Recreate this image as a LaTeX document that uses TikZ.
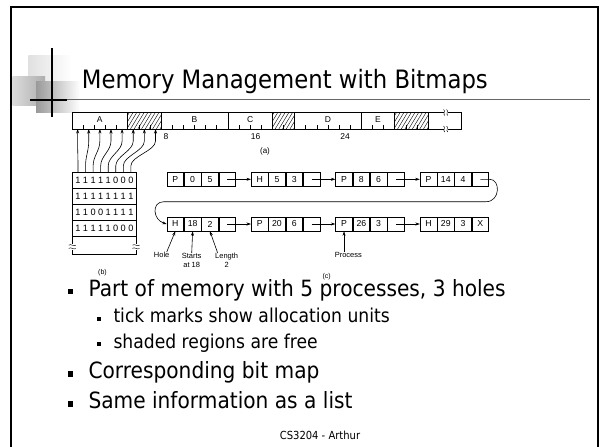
\documentclass[tikz,border=0pt]{standalone}
\usepackage{fontspec}
\usetikzlibrary{arrows.meta,calc}
\newfontfamily\tah[FakeStretch=0.9]{DejaVu Sans}
\newfontfamily\dfont{Liberation Sans}

% one record of the linked list: four cells side by side
\newcommand\listrec[6]{%
  \node[cell] (#1a) at (#2) {#3};
  \node[cell] (#1b) at (#1a.east) {#4};
  \node[cell] (#1c) at (#1b.east) {#5};
  \node[cell] (#1d) at (#1c.east) {#6};
}
% one row of the bitmap, bits placed one by one
\newcommand\bitrow[3]{%
  \foreach \d [count=\i from 0] in {#3}
    \node[bit] (#1-\i) at ({78+7.55*\i},#2) {\d};
}

\begin{document}
\begin{tikzpicture}[x=1pt,y=-1pt,
  cell/.style={draw, line width=0.6pt, minimum width=16.7pt, minimum height=13.8pt,
    inner sep=0pt, anchor=west, font=\dfont\fontsize{8.7}{9}\selectfont},
  bit/.style={inner sep=0pt, font=\dfont\fontsize{9.2}{10}\selectfont},
  lbl/.style={inner sep=0pt, align=center, font=\dfont\fontsize{7.5}{9}\selectfont},
  seg/.style={inner sep=0pt, font=\dfont\fontsize{8.5}{9}\selectfont},
  ptr/.style={-{Stealth[length=4.5pt,width=3pt]}, line width=0.6pt},
  thin/.style={line width=0.6pt},
  slidetxt/.style={anchor=base west, inner sep=0pt},
  bulletbig/.style={fill, minimum size=5.5pt, inner sep=0pt},
  bulletsmall/.style={fill, minimum size=4pt, inner sep=0pt}]

\fill[white] (0,0) rectangle (600,447);
\useasboundingbox (0,0) rectangle (600,447);

% slide frame
\draw[line width=2pt] (11,447) -- (11,7.3) -- (597.7,7.3) -- (597.7,447);

% corner emblem
\shade[left color=black!12, right color=white] (28.3,55) rectangle (71.7,83.3);
\shade[left color=black!14, right color=black!32] (12.7,76.7) rectangle (45,105);
\shade[left color=black!40, right color=white] (36,81.7) rectangle (80,112.7);
\draw[black!60, line width=0.8pt] (52,99.6) -- (590,99.6);
\draw[line width=2pt] (30,100) -- (67,100);
\draw[line width=2pt] (52.3,48.3) -- (52.3,116.7);

% title
\node[slidetxt, font=\tah\fontsize{25.3}{30}\selectfont] (title) at (81.7,88.3)
  {Memory Management with Bitmaps};

% ---- (a) memory bar ----
\foreach \a/\b in {5/8,18/20,29/32}{
  \begin{scope}
    \clip ({72+\a*11.13},112.5) rectangle ({72+\b*11.13},129);
    \foreach \o in {-12,-8.3,...,40}
      \draw[line width=0.4pt] ({72+\a*11.13+\o},129) -- ++(10,-16.5);
  \end{scope}
}
\draw[thin] (72,112.5) rectangle (461.7,129);
\foreach \k in {5,8,14,18,20,26,29,32}
  \draw[thin] ({72+\k*11.13},112.5) -- ({72+\k*11.13},129);
\foreach \k in {1,2,3,4,6,7,9,10,11,12,13,15,16,17,19,21,22,23,24,25,27,28,30,31}
  \draw[line width=0.5pt] ({72+\k*11.13},129) -- ({72+\k*11.13},125.3);
% break marks on the open end
\fill[white] (443.8,110) rectangle (447.8,115);
\fill[white] (443.8,126.5) rectangle (447.8,131.5);
\foreach \yy in {112.5,129}{
  \draw[line width=0.45pt] (443.6,\yy-3) .. controls (446,\yy-1.5) and (442.4,\yy+1.5) .. (444.8,\yy+3);
  \draw[line width=0.45pt] (446.6,\yy-3) .. controls (449,\yy-1.5) and (445.4,\yy+1.5) .. (447.8,\yy+3);
}
\node[seg] (sA) at ({72+2.5*11.13},119.5) {A};
\node[seg] (sB) at ({72+11*11.13},119.5) {B};
\node[seg] (sC) at ({72+16*11.13},119.5) {C};
\node[seg] (sD) at ({72+23*11.13},119.5) {D};
\node[seg] (sE) at ({72+27.5*11.13},119.5) {E};
\node[seg] (n8) at (166,136.7) {8};
\node[seg] (n16) at (255.7,136.7) {16};
\node[seg] (n24) at (345,136.7) {24};
\node[lbl, font=\dfont\fontsize{8}{9}\selectfont] (capa) at (265,151) {(a)};

% ---- (b) bitmap ----
\node[draw, thin, minimum width=63.7pt, minimum height=82.3pt, inner sep=0pt,
  anchor=north west] (bm) at (72.3,172) {};
\foreach \yy in {188.5,204.5,220.5,236.5}
  \draw[thin] (bm.west |- 0,\yy) -- (bm.east |- 0,\yy);
\bitrow{ra}{180.3}{1,1,1,1,1,0,0,0}
\bitrow{rb}{196.5}{1,1,1,1,1,1,1,1}
\bitrow{rc}{212.5}{1,1,0,0,1,1,1,1}
\bitrow{rd}{228.5}{1,1,1,1,1,0,0,0}
% break marks on the sides
\foreach \xx in {72.3,136}{
  \fill[white] (\xx-1.5,243.5) rectangle (\xx+1.5,250);
  \draw[line width=0.45pt] (\xx-3.5,245.2) .. controls (\xx-1.5,243.2) and (\xx+1.5,247.2) .. (\xx+3.5,245.2);
  \draw[line width=0.45pt] (\xx-3.5,248.4) .. controls (\xx-1.5,246.4) and (\xx+1.5,250.4) .. (\xx+3.5,248.4);
}
\node[lbl, font=\dfont\fontsize{7}{8}\selectfont] (capb) at (102.5,273) {(b)};

% bits pointing at their allocation units
\foreach \i in {0,...,7}{
  \coordinate (bt\i) at ({78+7.55*\i},172);
  \coordinate (bh\i) at ({77.6+11.13*\i},129);
  \draw[ptr] (bt\i) -- (bt\i |- 0,166)
    .. controls (bt\i |- 0,156) and (bh\i |- 0,151) .. (bh\i |- 0,141) -- (bh\i);
}

% ---- (c) list ----
\listrec{pa}{166.7,179.3}{P}{0}{5}{}
\listrec{pb}{251,179.3}{H}{5}{3}{}
\listrec{pc}{335.4,179.3}{P}{8}{6}{}
\listrec{pd}{419.8,179.3}{P}{14}{4}{}
\listrec{pe}{166.7,224}{H}{18}{2}{}
\listrec{pf}{251,224}{P}{20}{6}{}
\listrec{pg}{335.4,224}{P}{26}{3}{}
\listrec{ph}{419.8,224}{H}{29}{3}{X}

\draw[ptr] (pad.center) -- (pba.west);
\draw[ptr] (pbd.center) -- (pca.west);
\draw[ptr] (pcd.center) -- (pda.west);
\draw[ptr] (ped.center) -- (pfa.west);
\draw[ptr] (pfd.center) -- (pga.west);
\draw[ptr] (pgd.center) -- (pha.west);

\coordinate (loopR) at (486,201.7);
\coordinate (loopL) at (164,201.7);
\draw[ptr] (pdd.center) -- ++(9.5,0) .. controls (500.5,179.3) and (500.5,201.7) .. (loopR)
  -- (loopL) .. controls (151,201.7) and (153,220) .. (pea.west);

\node[lbl] (hole) at (161.7,255) {Hole};
\node[lbl] (starts) at (191.7,260.5) {Starts\\at 18};
\node[lbl] (length) at (226.7,260.5) {Length\\2};
\node[lbl] (proc) at (348.3,255) {Process};
\draw[ptr] ([xshift=5pt]hole.north) -- (pea.south);
\draw[ptr] (starts.north) -- (peb.south);
\draw[ptr] ([xshift=-9pt]length.north) -- (pec.south);
\draw[ptr] (proc.north -| pga.south) -- (pga.south);
\node[lbl, font=\dfont\fontsize{7}{8}\selectfont] (capc) at (326.7,276.7) {(c)};

% ---- bullet text ----
\node[bulletbig] (b1) at (70.5,291.5) {};
\node[slidetxt, font=\tah\fontsize{22.4}{26}\selectfont] (t1) at (88.3,296)
  {Part of memory with 5 processes, 3 holes};
\node[bulletsmall] (b2) at (99.2,318.5) {};
\node[slidetxt, font=\tah\fontsize{19.1}{23}\selectfont] (t2) at (113.3,322.5)
  {tick marks show allocation units};
\node[bulletsmall] (b3) at (99.2,344) {};
\node[slidetxt, font=\tah\fontsize{19.1}{23}\selectfont] (t3) at (113.3,348)
  {shaded regions are free};
\node[bulletbig] (b4) at (70.5,374) {};
\node[slidetxt, font=\tah\fontsize{22.4}{26}\selectfont] (t4) at (88.3,378.3)
  {Corresponding bit map};
\node[bulletbig] (b5) at (70.5,404) {};
\node[slidetxt, font=\tah\fontsize{22.4}{26}\selectfont] (t5) at (88.3,408.3)
  {Same information as a list};

\node[anchor=base, inner sep=0pt, font=\tah\fontsize{11.1}{13}\selectfont] (foot) at (320,439.3)
  {CS3204 - Arthur};
\end{tikzpicture}
\end{document}
